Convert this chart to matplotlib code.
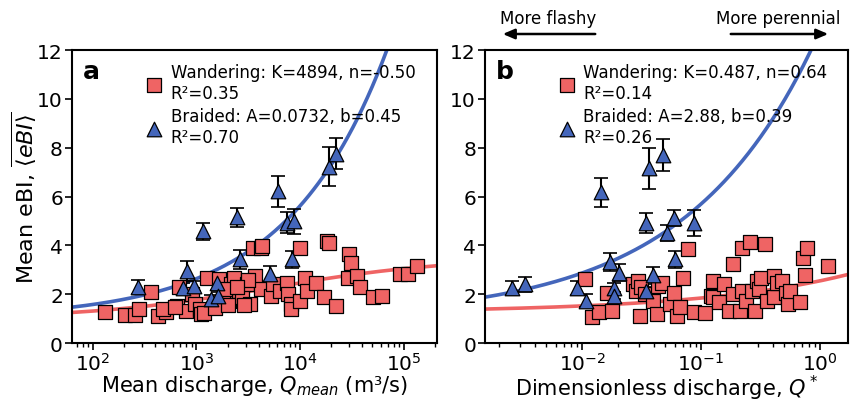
import matplotlib.pyplot as plt
import numpy as np

# panel a: mean discharge (m3/s)
wand_q = [132, 204, 257, 282, 363, 427, 513, 479, 646, 676, 794, 912, 977, 1072, 1259,
          1096, 1622, 1660, 2042, 2138, 2291, 2570, 2754, 3090, 3311, 3548, 4169, 3715,
          4200, 5248, 5495, 6457, 7413, 7586, 8128, 8200, 10000, 11220, 9900, 11750,
          14125, 16980, 18200, 19050, 22390, 29510, 30900, 29000, 35480, 38020, 50120,
          61660, 91200, 109600, 134900, 617, 1820, 1175, 1510, 1995, 2884, 1905, 3162,
          4270, 2455]
wand_ebi = [1.26, 1.17, 1.17, 1.40, 2.11, 1.12, 1.26, 1.40, 1.53, 2.28, 1.33, 2.01, 1.60,
            1.40, 2.68, 1.19, 1.60, 2.61, 1.74, 2.41, 2.68, 2.14, 1.87, 2.41, 1.60, 3.90,
            3.90, 2.75, 2.21, 1.94, 2.41, 2.14, 2.48, 2.01, 1.60, 1.40, 3.90, 2.68, 1.74,
            2.14, 2.48, 1.87, 4.17, 4.10, 1.53, 3.63, 3.29, 2.68, 2.75, 2.28, 1.87, 1.94,
            2.82, 2.82, 3.16, 1.46, 1.67, 1.25, 1.45, 1.55, 1.55, 2.20, 2.60, 3.97, 2.28]

braid_q = [275, 810, 740, 950, 1150, 1380, 1590, 1620, 2450, 2630, 5130, 6170, 7410,
           8710, 8320, 19000, 22400]
braid_ebi = [2.30, 2.95, 2.25, 2.34, 4.58, 1.80, 2.48, 1.94, 5.15, 3.43, 2.82, 6.21,
             4.92, 4.99, 3.43, 7.22, 7.76]
braid_err = [0.27, 0.40, 0.20, 0.20, 0.34, 0.15, 0.30, 0.15, 0.38, 0.40, 0.34, 0.62,
             0.43, 0.52, 0.35, 0.80, 0.64]

# panel b: dimensionless discharge Q*
wand_qs = [0.0105, 0.0120, 0.0138, 0.0162, 0.0178, 0.0269, 0.0282, 0.0295, 0.0309, 0.031,
           0.0339, 0.0398, 0.0427, 0.0437, 0.0468, 0.0550, 0.0589, 0.0631, 0.0661, 0.0708,
           0.0776, 0.0871, 0.107, 0.120, 0.126, 0.125, 0.141, 0.155, 0.170, 0.186, 0.187,
           0.214, 0.219, 0.22, 0.240, 0.257, 0.269, 0.282, 0.295, 0.309, 0.316, 0.347,
           0.355, 0.407, 0.41, 0.437, 0.479, 0.513, 0.537, 0.562, 0.676, 0.724, 0.741,
           0.776, 1.175]
wand_ebi_s = [2.61, 1.06, 1.26, 2.07, 1.33, 2.41, 2.14, 2.55, 1.12, 2.28, 2.00, 1.74, 1.19,
              2.34, 2.48, 1.60, 2.07, 1.12, 1.46, 2.68, 3.87, 1.26, 1.22, 1.94, 2.55, 1.87,
              1.67, 2.41, 1.33, 3.22, 2.00, 1.33, 3.90, 2.14, 1.74, 4.15, 2.14, 1.33, 2.55,
              2.21, 2.68, 4.04, 1.74, 2.75, 1.87, 2.48, 2.55, 2.07, 1.60, 2.14, 1.67, 3.50,
              2.78, 3.90, 3.16]

braid_qs = [0.00257, 0.00331, 0.00912, 0.0107, 0.0145, 0.0170, 0.0204, 0.0186, 0.0186,
            0.0347, 0.0347, 0.0363, 0.0398, 0.0479, 0.0513, 0.0589, 0.0603, 0.0871]
braid_ebi_s = [2.25, 2.41, 2.25, 1.74, 6.18, 3.33, 2.89, 2.25, 1.94, 2.14, 4.92, 7.15,
               2.78, 7.70, 4.51, 5.12, 3.43, 4.92]
braid_err_s = [0.30, 0.30, 0.30, 0.26, 0.60, 0.37, 0.33, 0.23, 0.15, 0.15, 0.41, 0.85,
               0.34, 0.67, 0.34, 0.34, 0.34, 0.54]

# fit parameters
K_a, n_a, A_a, b_a = 4894, -0.50, 0.0732, 0.45
c_w, a_w, p_w = 1.25, 1.30, 0.339     # panel b wandering curve
a_b, p_b = 11.8, 0.40                 # panel b braided curve

RED = '#ef6464'
BLUE = '#4466bb'

plt.rcParams['font.family'] = 'DejaVu Sans'
fig = plt.figure(figsize=(8.51, 4.02), dpi=100)
ax1 = fig.add_axes([0.0846, 0.144, 0.429, 0.729])
ax2 = fig.add_axes([0.570, 0.144, 0.4266, 0.729])


def style(ax):
    ax.set_xscale('log')
    ax.set_ylim(0, 12)
    ax.set_yticks([0, 2, 4, 6, 8, 10, 12])
    ax.tick_params(labelsize=14.5, width=1.2, length=5, pad=1.5)
    ax.tick_params(which='minor', width=1.0, length=3)
    for s in ax.spines.values():
        s.set_linewidth(1.5)


def draw(ax, xw, yw, xb, yb, eb, wlabel, blabel):
    ax.errorbar(xb, yb, yerr=eb, fmt='none', ecolor='black', elinewidth=1.5,
                capsize=5, capthick=1.2, zorder=3)
    ax.scatter(xw, yw, marker='s', s=95, facecolor=RED, edgecolor='black',
               linewidth=0.9, zorder=4, label=wlabel)
    ax.scatter(xb, yb, marker='^', s=110, facecolor=BLUE, edgecolor='black',
               linewidth=0.9, zorder=5, label=blabel)
    ax.legend(loc='upper left', bbox_to_anchor=(0.17, 0.99), frameon=False,
              fontsize=12, handletextpad=0.4, labelspacing=0.3,
              borderaxespad=0.2, handlelength=1.2)


# panel a
style(ax1)
ax1.set_xlim(63, 2.1e5)
qa = np.logspace(np.log10(63), np.log10(2.1e5), 300)
ax1.plot(qa, 1 + 2.5 / (1 + (qa / K_a) ** n_a), color=RED, lw=2.6, zorder=2)
ax1.plot(qa, 1 + A_a * qa ** b_a, color=BLUE, lw=2.6, zorder=2)
draw(ax1, wand_q, wand_ebi, braid_q, braid_ebi, braid_err,
     'Wandering: K=4894, n=-0.50\nR²=0.35', 'Braided: A=0.0732, b=0.45\nR²=0.70')
ax1.text(0.03, 0.93, 'a', transform=ax1.transAxes, fontsize=18, fontweight='bold',
         va='center')
ax1.set_xlabel(r'Mean discharge, $Q_{mean}$ (m³/s)', fontsize=15, labelpad=-1)
ax1.set_ylabel(r'Mean eBI, $\overline{\langle eBI\rangle}$', fontsize=16, labelpad=-1)

# panel b
style(ax2)
ax2.set_xlim(1.53e-3, 1.72)
qb = np.logspace(np.log10(1.53e-3), np.log10(1.72), 300)
ax2.plot(qb, c_w + a_w * qb ** p_w, color=RED, lw=2.6, zorder=2)
ax2.plot(qb, 1 + a_b * qb ** p_b, color=BLUE, lw=2.6, zorder=2)
draw(ax2, wand_qs, wand_ebi_s, braid_qs, braid_ebi_s, braid_err_s,
     'Wandering: K=0.487, n=0.64\nR²=0.14', 'Braided: A=2.88, b=0.39\nR²=0.26')
ax2.text(0.03, 0.93, 'b', transform=ax2.transAxes, fontsize=18, fontweight='bold',
         va='center')
ax2.set_xlabel(r'Dimensionless discharge, $Q^*$', fontsize=15, labelpad=-1)

# arrows above panel b
fig.text(548 / 851, 1 - 19 / 402, 'More flashy', ha='center', va='center', fontsize=12)
fig.text(778 / 851, 1 - 19 / 402, 'More perennial', ha='center', va='center', fontsize=12)
arrow = dict(arrowstyle='-|>,head_width=0.3,head_length=0.7', color='black', lw=1.8)
ax2.annotate('', xy=(500 / 851, 1 - 35 / 402), xytext=(598 / 851, 1 - 35 / 402),
             xycoords='figure fraction', textcoords='figure fraction',
             arrowprops=arrow, annotation_clip=False)
ax2.annotate('', xy=(831 / 851, 1 - 35 / 402), xytext=(728 / 851, 1 - 35 / 402),
             xycoords='figure fraction', textcoords='figure fraction',
             arrowprops=arrow, annotation_clip=False)

fig.savefig('out.png', dpi=100)
